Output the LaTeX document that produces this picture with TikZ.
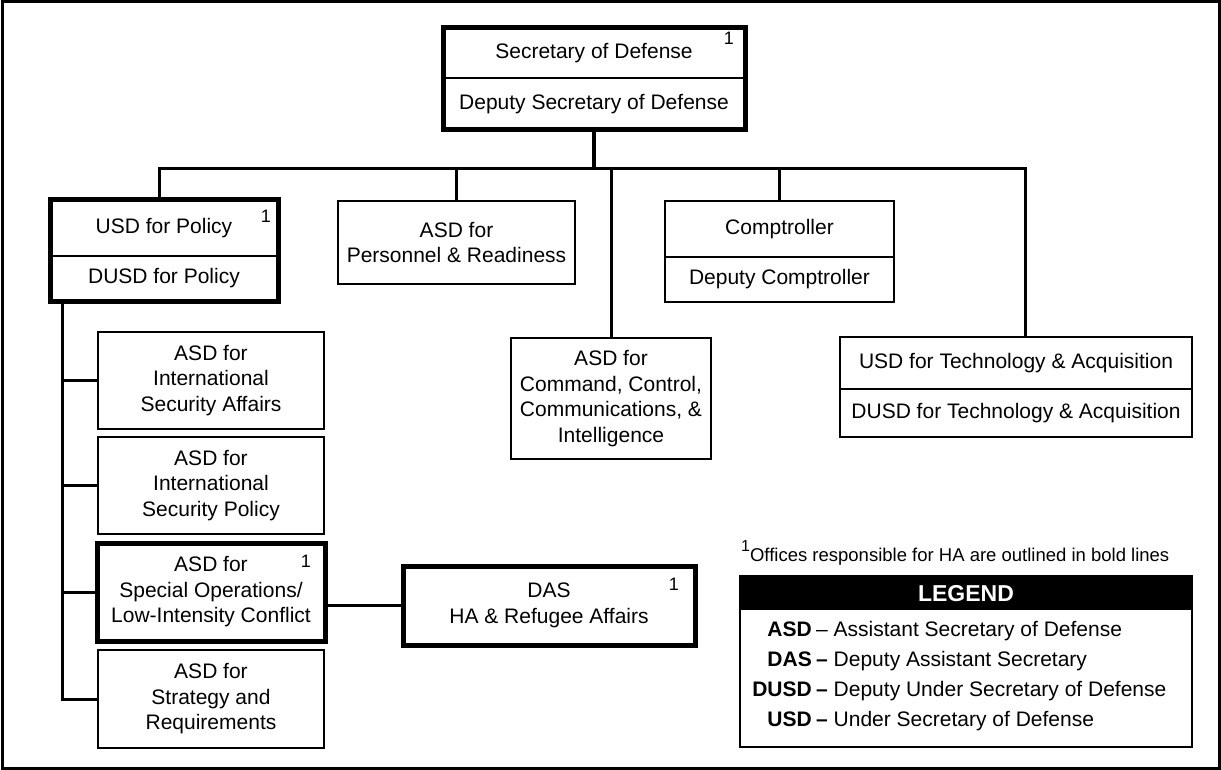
\documentclass[tikz,border=0pt]{standalone}
\usepackage{fontspec}
\setmainfont{Liberation Sans}
\usetikzlibrary{positioning}
\newcommand\orgfont{\fontsize{21}{25.5}\selectfont}
\tikzstyle{box} = [rectangle, draw=black, line width=2.4pt, fill=white, align=center, inner sep=0pt, outer sep=0pt, font=\orgfont]
\tikzstyle{thickbox} = [line width=5pt]
\tikzstyle{wire} = [line width=3pt]
\tikzset{hamark/.style 2 args={label={[anchor=north east, inner sep=0pt, xshift=#1, yshift=#2, font=\fontsize{18}{18}\selectfont]north east:1}}}

\begin{document}
\begin{tikzpicture}[x=1pt, y=-1pt]
    \useasboundingbox (0,0) rectangle (1221,770);
    \draw[line width=3pt] (2,2) rectangle (1219,768);

    % top of the chart
    \node (sec) [box, minimum width=302pt, minimum height=50pt, hamark={-11pt}{-4pt}] at (594,53) {Secretary of Defense};
    \node (dsec) [box, minimum width=302pt, minimum height=52pt, below=0pt of sec] {Deputy Secretary of Defense};
    \draw[thickbox] (sec.north west) rectangle (dsec.south east);

    % second row
    \node (usd) [box, minimum width=228pt, minimum height=56pt, hamark={-7pt}{-10pt}] at (164,228) {USD for Policy};
    \node (dusd) [box, minimum width=228pt, minimum height=45pt, below=0pt of usd] {DUSD for Policy};
    \draw[thickbox] (usd.north west) rectangle (dusd.south east);
    \node (per) [box, minimum width=237pt, minimum height=83pt] at (456.5,242.5) {ASD for\\Personnel \& Readiness};
    \node (comp) [box, minimum width=229pt, minimum height=56pt] at (779.5,229) {Comptroller};
    \node (dcomp) [box, minimum width=229pt, minimum height=45pt, below=0pt of comp] {Deputy Comptroller};
    \node (c3i) [box, minimum width=200pt, minimum height=121pt] at (611,398.5) {ASD for\\Command, Control,\\Communications, \&\\Intelligence};
    \node (tna) [box, minimum width=352pt, minimum height=52pt] at (1016,363) {USD for Technology \& Acquisition};
    \node (dtna) [box, minimum width=352pt, minimum height=48pt, below=0pt of tna] {DUSD for Technology \& Acquisition};

    % under the USD for Policy
    \node (isa) [box, minimum width=226pt, minimum height=97pt] at (211,380.5) {ASD for\\International\\Security Affairs};
    \node (isp) [box, minimum width=226pt, minimum height=97pt, below=8pt of isa] {ASD for\\International\\Security Policy};
    \node (solic) [box, thickbox, minimum width=228pt, minimum height=98pt, below=9pt of isp, hamark={-14pt}{-12pt}] {ASD for\\Special Operations/\\Low-Intensity Conflict};
    \node (snr) [box, minimum width=226pt, minimum height=98pt, below=9pt of solic] {ASD for\\Strategy and\\Requirements};
    \node (das) [box, thickbox, minimum width=292pt, minimum height=79pt, hamark={-16pt}{-12pt}] at (549,605.5) {DAS\\HA \& Refugee Affairs};

    % lines
    \coordinate (busl) at (159,169);
    \coordinate (busr) at (1025,169);
    \coordinate (spine) at (62,301);
    \draw[wire, line width=3.6pt] (dsec.south) -- (dsec.south |- busl);
    \draw[wire] (usd.north -| busl) -- (busl) -- (busr) -- (tna.north -| busr);
    \draw[wire] (per.north) -- (per.north |- busl);
    \draw[wire] (comp.north) -- (comp.north |- busl);
    \draw[wire] (c3i.north) -- (c3i.north |- busl);
    \draw[wire] (spine) |- (snr.west);
    \foreach \n in {isa, isp, solic}
        \draw[wire] (spine |- \n.west) -- (\n.west);
    \draw[wire] (solic.east |- das.west) -- (das.west);

    % footnote and legend
    \node (note) [anchor=base west, inner sep=0pt, font=\fontsize{18.5}{20}\selectfont] at (741,561) {\raisebox{10pt}{\fontsize{16}{16}\selectfont 1}Offices responsible for HA are outlined in bold lines};
    \node (legend) [draw, line width=2.4pt, minimum width=452pt, minimum height=171pt, inner sep=0pt, outer sep=0pt] at (966,661.5) {};
    \node (legendhead) [fill=black, text=white, minimum width=452pt, minimum height=34pt, inner sep=0pt, anchor=north, font=\bfseries\fontsize{23}{25}\selectfont] at (legend.north) {LEGEND};
    \foreach \abbr/\full [count=\i] in {ASD/{\textendash\ Assistant Secretary of Defense}, DAS/{\textbf{\textendash}\ Deputy Assistant Secretary}, DUSD/{\textbf{\textendash}\ Deputy Under Secretary of Defense}, USD/{\textbf{\textendash}\ Under Secretary of Defense}}
    {
        \node (abbr\i) [anchor=base east, inner sep=0pt, font=\bfseries\orgfont] at (812,606+30*\i) {\abbr};
        \node (full\i) [anchor=base west, inner sep=0pt, font=\orgfont] at (816,606+30*\i) {\full};
    }
\end{tikzpicture}
\end{document}
